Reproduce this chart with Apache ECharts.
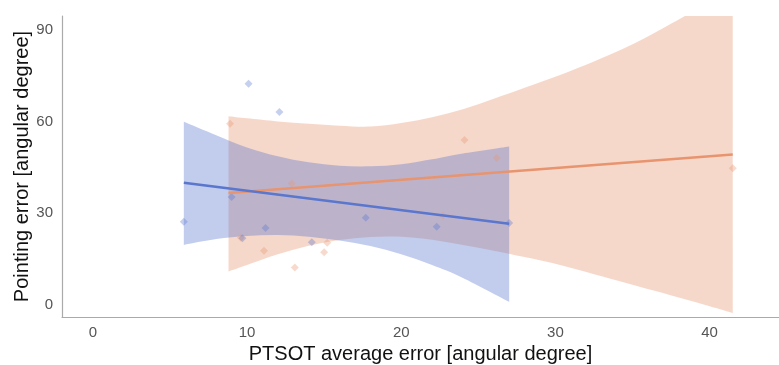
<!DOCTYPE html>
<html>
<head>
<meta charset="utf-8">
<script src="https://cdn.jsdelivr.net/npm/echarts@6/dist/echarts.min.js"></script>
<style>
  html, body { margin: 0; padding: 0; background: #fff; }
  #chart { width: 779px; height: 365px; }
</style>
</head>
<body>
<div id="chart"></div>
<script>
// scatter points
const blueX = [5.9, 9.0, 9.7, 10.1, 11.2, 12.1, 14.2, 17.7, 22.3, 27.0]
const blueY = [27.2, 35.3, 21.8, 72.3, 25.1, 63.1, 20.5, 28.5, 25.5, 26.8]
const orangeX = [8.9, 9.6, 11.1, 12.9, 13.1, 15.0, 15.2, 22.7, 24.1, 26.2, 41.5]
const orangeY = [59.2, 21.9, 17.7, 39.7, 12.2, 17.2, 20.3, 29.2, 53.9, 48.0, 44.7]

// fitted lines (end points)
const blueFitX = [5.9, 27.0]
const blueFitY = [39.9, 26.5]
const orangeFitX = [8.8, 41.5]
const orangeFitY = [36.6, 49.2]

// confidence bands
const blueBandX = [5.9, 8, 10, 12, 14, 16, 18, 20, 22, 24, 27]
const blueBandUp = [59.9, 55.5, 51.5, 48.6, 46.6, 45.5, 45.3, 46, 47.6, 49.5, 51.8]
const blueBandLo = [19.6, 21.5, 22.5, 22.8, 22.3, 21, 19.2, 16.5, 13, 8.8, 1.0]
const orangeBandX = [8.8, 10, 12, 14, 16, 18, 20, 22, 24, 26, 28, 30.3, 32.5, 34.7, 36.5, 38.4, 40, 41.5]
const orangeBandUp = [61.7, 61.0, 60.0, 59.2, 58.6, 58.3, 59.5, 61.4, 64, 67.4, 71, 75.2, 79.6, 84.5, 89.2, 94.5, 99, 103]
const orangeBandLo = [10.9, 13, 16.5, 19.3, 21.2, 22.2, 22.3, 21.3, 19.6, 17.7, 15.6, 13, 10, 7, 4.5, 1.8, -0.5, -2.7]

const xTitle = 'PTSOT average error [angular degree]'
const yTitle = 'Pointing error [angular degree]'

const BLUE = '#5a76cd'
const ORANGE = '#e7946f'
const fontFamily = '"Liberation Sans", Arial, sans-serif'

const zip = (xs, ys) => xs.map((x, i) => [x, ys[i]])

// catmull-rom through pixel points, continuing an existing path
const curveThrough = (pts) => {
  let d = ''
  for (let i = 0; i < pts.length - 1; i++) {
    const p0 = pts[i - 1] || pts[i]
    const p1 = pts[i]
    const p2 = pts[i + 1]
    const p3 = pts[i + 2] || p2
    const c1 = [p1[0] + (p2[0] - p0[0]) / 6, p1[1] + (p2[1] - p0[1]) / 6]
    const c2 = [p2[0] - (p3[0] - p1[0]) / 6, p2[1] - (p3[1] - p1[1]) / 6]
    d += ` C${c1[0]},${c1[1]} ${c2[0]},${c2[1]} ${p2[0]},${p2[1]}`
  }
  return d
}

const scatter = (xs, ys, color) => ({
  type: 'scatter',
  data: zip(xs, ys),
  symbol: 'diamond',
  symbolSize: 8,
  itemStyle: { color, opacity: 0.35 },
  silent: true,
})

const fit = (xs, ys, color) => ({
  type: 'line',
  data: zip(xs, ys),
  symbol: 'none',
  lineStyle: { color, width: 2.5 },
  silent: true,
})

const band = (xs, up, lo, color) => ({
  type: 'custom',
  clip: true,
  silent: true,
  data: [0],
  renderItem: (params, api) => {
    const top = xs.map((x, i) => api.coord([x, up[i]]))
    const bot = xs.map((x, i) => api.coord([x, lo[i]])).reverse()
    const d = `M${top[0][0]},${top[0][1]}` + curveThrough(top) +
      ` L${bot[0][0]},${bot[0][1]}` + curveThrough(bot) + ' Z'
    return {
      type: 'path',
      shape: { pathData: d },
      style: { fill: color, opacity: 0.37 },
    }
  },
})

const axisText = { color: '#555', fontSize: 15, fontFamily }
const nameText = { color: '#111', fontSize: 20, fontFamily }

const chart = echarts.init(document.getElementById('chart'), null, { renderer: 'canvas' })

chart.setOption({
  animation: false,
  backgroundColor: '#fff',
  grid: { left: 62, right: 0, top: 16, bottom: 48, containLabel: false, outerBoundsMode: 'none' },
  xAxis: {
    type: 'value',
    min: -2,
    max: 44.5,
    splitNumber: 5,
    name: xTitle,
    nameLocation: 'middle',
    nameGap: 27,
    nameMoveOverlap: false,
    nameTextStyle: nameText,
    axisLine: { show: true, onZero: false, lineStyle: { color: '#aaa', width: 1.2 } },
    axisTick: { show: false },
    splitLine: { show: false },
    axisLabel: { ...axisText, margin: 8, showMinLabel: false, showMaxLabel: false },
  },
  yAxis: {
    type: 'value',
    min: -4,
    max: 94.5,
    splitNumber: 3,
    name: yTitle,
    nameLocation: 'middle',
    nameGap: 30,
    nameMoveOverlap: false,
    nameTextStyle: nameText,
    axisLine: { show: true, onZero: false, lineStyle: { color: '#aaa', width: 1.2 } },
    axisTick: { show: false },
    splitLine: { show: false },
    axisLabel: { ...axisText, margin: 9, showMinLabel: false, showMaxLabel: false },
  },
  series: [
    scatter(orangeX, orangeY, ORANGE),
    band(orangeBandX, orangeBandUp, orangeBandLo, ORANGE),
    fit(orangeFitX, orangeFitY, ORANGE),
    scatter(blueX, blueY, BLUE),
    band(blueBandX, blueBandUp, blueBandLo, BLUE),
    fit(blueFitX, blueFitY, BLUE),
  ],
})
</script>
</body>
</html>
